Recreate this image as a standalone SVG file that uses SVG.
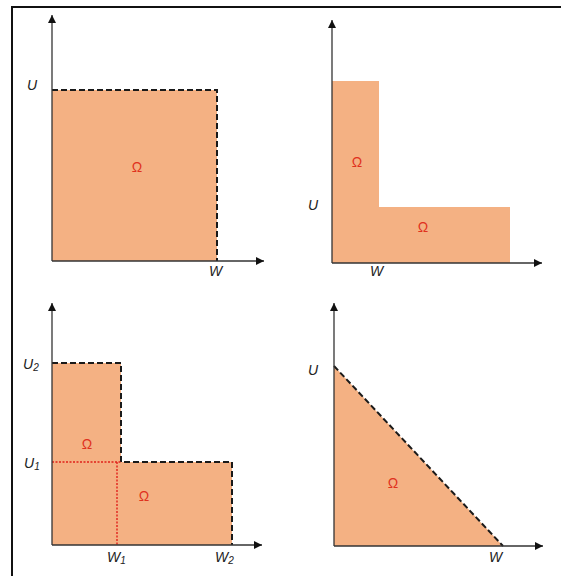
<svg xmlns="http://www.w3.org/2000/svg" width="561" height="576" viewBox="0 0 561 576">
<style>
.ax{stroke:#333;stroke-width:1.3;fill:none}
.fill{fill:#F4B183;stroke:none}
.dash{stroke:#1a1a1a;stroke-width:2;stroke-dasharray:6,3;fill:none}
.dot{stroke:#E0201A;stroke-width:1.4;stroke-dasharray:2,1.5;fill:none}
.lbl{font-family:"Liberation Sans",Arial,sans-serif;font-style:italic;font-size:14px;fill:#222}
.om{font-family:"Liberation Sans",Arial,sans-serif;font-size:14px;fill:#E0321E;text-anchor:middle}
</style>
<defs>
<marker id="ah" viewBox="0 0 10 10" refX="10" refY="5" markerWidth="8" markerHeight="8" markerUnits="userSpaceOnUse" orient="auto">
<path d="M0,0 L10,5 L0,10 z" fill="#111"/>
</marker>
</defs>
<rect x="0" y="0" width="561" height="576" fill="#fff"/>
<path d="M12,577 V7 H562" stroke="#111" stroke-width="2" fill="none"/>

<g id="panel1">
<rect class="fill" x="52" y="90" width="165" height="171"/>
<path class="dash" d="M52,90 H217 V261"/>
<text class="om" x="137" y="172">Ω</text>
<text class="lbl" x="27" y="90">U</text>
<text class="lbl" x="209" y="276">W</text>
</g>

<g id="panel2">
<path class="fill" d="M332,81 H379 V207 H510 V263 H332 Z"/>
<text class="om" x="357" y="167">Ω</text>
<text class="om" x="423" y="232">Ω</text>
<text class="lbl" x="308" y="210">U</text>
<text class="lbl" x="370" y="276">W</text>
</g>

<g id="panel3">
<path class="fill" d="M52,363 H121 V462 H232 V545 H52 Z"/>
<path class="dash" d="M52,363 H121 V462 H232 V545"/>
<path class="dot" d="M52,462 H121 M117,462 V545"/>
<text class="om" x="87" y="449">Ω</text>
<text class="om" x="144" y="501">Ω</text>
<text class="lbl" x="23" y="369">U<tspan font-size="10" dy="2">2</tspan></text>
<text class="lbl" x="24" y="468">U<tspan font-size="10" dy="2">1</tspan></text>
<text class="lbl" x="107" y="562">W<tspan font-size="10" dy="2">1</tspan></text>
<text class="lbl" x="215" y="562">W<tspan font-size="10" dy="2">2</tspan></text>
</g>

<g id="panel4">
<path class="fill" d="M334,366 L503,546 H334 Z"/>
<path class="dash" d="M334,366 L503,546"/>
<text class="om" x="393" y="488">Ω</text>
<text class="lbl" x="308" y="375">U</text>
<text class="lbl" x="489" y="562">W</text>
</g>

<g id="connectors">
<path class="ax" marker-end="url(#ah)" d="M52,261 V15"/>
<path class="ax" marker-end="url(#ah)" d="M52,261 H264"/>
<path class="ax" marker-end="url(#ah)" d="M332,263 V20"/>
<path class="ax" marker-end="url(#ah)" d="M332,263 H542"/>
<path class="ax" marker-end="url(#ah)" d="M52,545 V303"/>
<path class="ax" marker-end="url(#ah)" d="M52,545 H262"/>
<path class="ax" marker-end="url(#ah)" d="M334,546 V303"/>
<path class="ax" marker-end="url(#ah)" d="M334,546 H543"/>
</g>
</svg>
